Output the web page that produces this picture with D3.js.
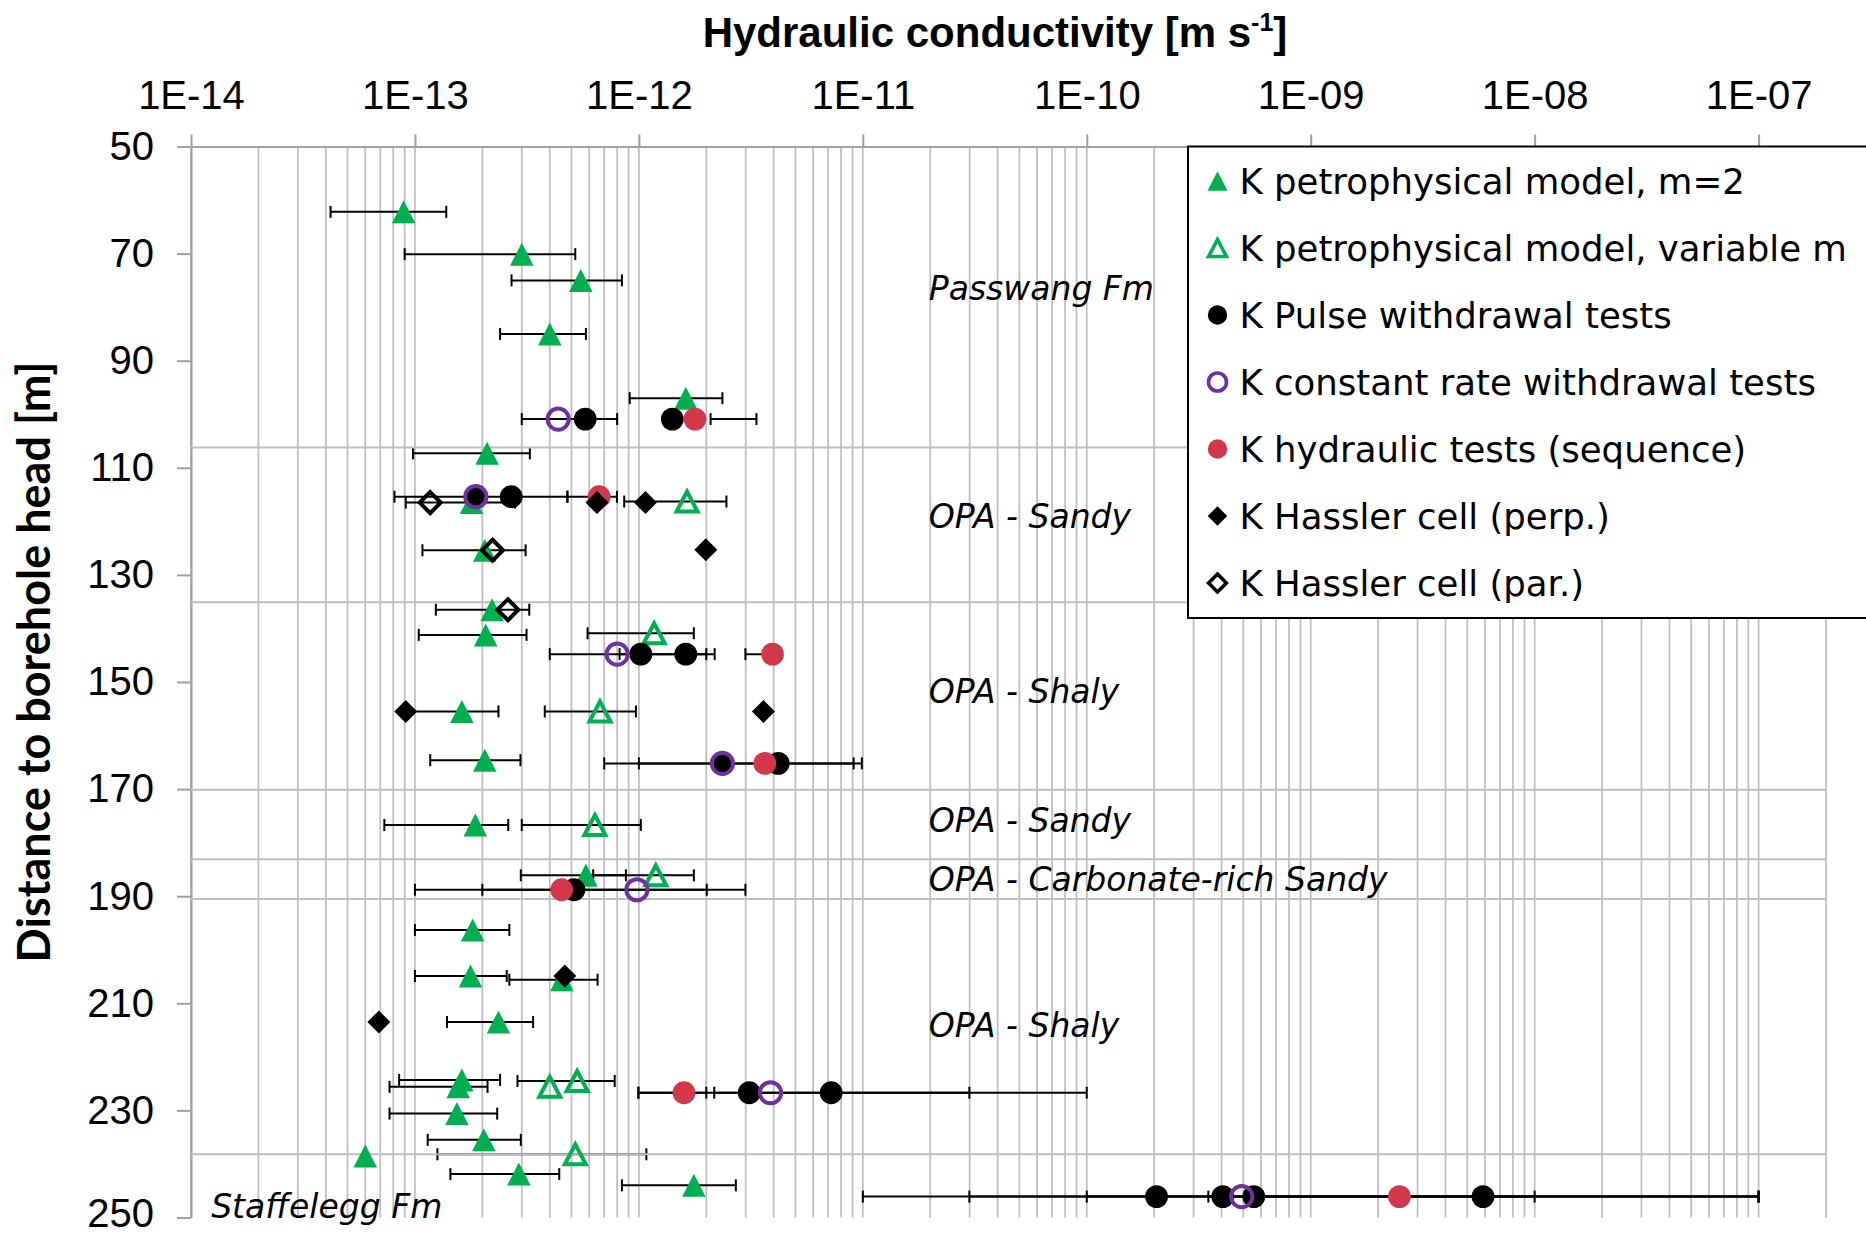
<!DOCTYPE html>
<html>
<head>
<meta charset="utf-8">
<script src="https://cdn.jsdelivr.net/npm/d3@7"></script>
<style>
  body { margin: 0; background: #fff; }
  svg { display: block; font-family: "Liberation Sans", Arial, sans-serif; }
</style>
</head>
<body>
<div id="chart"></div>
<script>
// Rows: [depth (m), K (m/s), error bar low, error bar high]
var petroM2 = [
    [62.2, 8.9e-14, 4.2e-14, 1.38e-13],
    [70.1, 3.0e-13, 9.0e-14, 5.2e-13],
    [75.0, 5.5e-13, 2.7e-13, 8.4e-13],
    [85.0, 4.0e-13, 2.4e-13, 5.8e-13],
    [97.0, 1.62e-12, 9.1e-13, 2.36e-12],
    [107.3, 2.1e-13, 9.8e-14, 3.26e-13],
    [116.5, 1.79e-13, 9.1e-14, 2.8e-13],
    [125.4, 2.05e-13, 1.08e-13, 3.12e-13],
    [136.5, 2.21e-13, 1.24e-13, 3.24e-13],
    [141.2, 2.07e-13, 1.04e-13, 3.15e-13],
    [155.5, 1.62e-13, 9.1e-14, 2.36e-13],
    [164.6, 2.05e-13, 1.17e-13, 2.96e-13],
    [176.7, 1.86e-13, 7.3e-14, 2.61e-13],
    [186.1, 5.8e-13, 2.97e-13, 8.75e-13],
    [196.3, 1.81e-13, 1.0e-13, 2.64e-13],
    [204.9, 1.77e-13, 1.0e-13, 2.57e-13],
    [205.6, 4.53e-13, 2.64e-13, 6.54e-13],
    [213.5, 2.36e-13, 1.39e-13, 3.37e-13],
    [224.3, 1.62e-13, 8.5e-14, 2.4e-13],
    [225.6, 1.56e-13, 7.7e-14, 2.11e-13],
    [230.6, 1.54e-13, 7.7e-14, 2.33e-13],
    [235.5, 2.03e-13, 1.14e-13, 2.97e-13],
    [238.5, 6.0e-14, null, null],
    [241.9, 2.91e-13, 1.44e-13, 4.41e-13],
    [244.0, 1.76e-12, 8.4e-13, 2.71e-12]
];

var petroVar = [
    [116.3, 1.64e-12, 8.6e-13, 2.46e-12],
    [140.9, 1.17e-12, 5.9e-13, 1.76e-12],
    [155.5, 6.7e-13, 3.8e-13, 9.7e-13],
    [176.7, 6.36e-13, 3.0e-13, 1.02e-12],
    [186.1, 1.19e-12, 6.25e-13, 1.76e-12],
    [224.5, 5.3e-13, 2.87e-13, 7.8e-13],
    [225.6, 4.0e-13, null, null],
    [238.2, 5.2e-13, 1.26e-13, 1.08e-12]
];

var pulse = [
    [100.9, 5.76e-13, 3.0e-13, 8.0e-13],
    [100.9, 1.41e-12, null, null],
    [115.4, 1.87e-13, null, null],
    [115.4, 2.69e-13, 8.1e-14, 4.8e-13],
    [144.8, 1.02e-12, 4.0e-13, 2.0e-12],
    [144.8, 1.62e-12, 8.2e-13, 2.18e-12],
    [165.2, 2.36e-12, 7.0e-13, 9.9e-12],
    [165.2, 4.19e-12, 1.0e-12, 9.1e-12],
    [188.8, 5.13e-13, 1.0e-13, 2.99e-12],
    [226.7, 3.11e-12, 9.95e-13, 2.99e-11],
    [226.7, 7.22e-12, 2.17e-12, 1.0e-10],
    [246.1, 2.05e-10, 1.0e-11, 1.0e-8],
    [246.1, 4.05e-10, 2.99e-11, 1.0e-7],
    [246.1, 5.57e-10, 1.0e-10, 1.0e-7],
    [246.1, 5.88e-9, 3.49e-10, 1.0e-7]
];

var constRate = [
    [100.9, 4.36e-13, null, null],
    [115.4, 1.87e-13, null, null],
    [144.8, 8.0e-13, null, null],
    [165.2, 2.36e-12, null, null],
    [188.8, 9.8e-13, null, null],
    [226.7, 3.87e-12, null, null],
    [246.1, 4.92e-10, null, null]
];

var hydraulic = [
    [100.9, 1.78e-12, 2.09e-12, 3.35e-12],
    [115.4, 6.65e-13, 4.79e-13, 7.98e-13],
    [144.8, 3.95e-12, 2.99e-12, 4.26e-12],
    [165.2, 3.65e-12, null, null],
    [188.8, 4.52e-13, 2.0e-13, 2.01e-12],
    [226.7, 1.59e-12, 9.95e-13, 2.0e-12],
    [246.1, 2.49e-9, null, null]
];

var hasslerPerp = [
    [116.5, 6.5e-13, null, null],
    [116.5, 1.07e-12, null, null],
    [125.3, 1.99e-12, null, null],
    [155.5, 9.1e-14, null, null],
    [155.5, 3.6e-12, null, null],
    [204.9, 4.67e-13, null, null],
    [213.5, 6.9e-14, null, null]
];

var hasslerPar = [
    [116.5, 1.17e-13, null, null],
    [125.4, 2.22e-13, null, null],
    [136.5, 2.6e-13, null, null]
];

// Formation boundaries (m) and labels [text, depth of baseline, K at text start]
var boundaries = [106.2, 135.1, 170.1, 183.1, 190.5, 238.2];
var formations = [
    ["Passwang Fm", 78.6, 1.97e-11],
    ["OPA - Sandy", 121.3, 1.97e-11],
    ["OPA - Shaly", 154.0, 1.97e-11],
    ["OPA - Sandy", 178.1, 1.97e-11],
    ["OPA - Carbonate-rich Sandy", 189.1, 1.97e-11],
    ["OPA - Shaly", 216.2, 1.97e-11],
    ["Staffelegg Fm", 250.0, 1.23e-14]
];

var depthTicks = [50, 70, 90, 110, 130, 150, 170, 190, 210, 230, 250];
var kTicks = [1e-14, 1e-13, 1e-12, 1e-11, 1e-10, 1e-9, 1e-8, 1e-7];
var kTickLabels = ["1E-14", "1E-13", "1E-12", "1E-11", "1E-10", "1E-09", "1E-08", "1E-07"];

var legendLabels = [
    "K petrophysical model, m=2",
    "K petrophysical model, variable m",
    "K Pulse withdrawal tests",
    "K constant rate withdrawal tests",
    "K hydraulic tests (sequence)",
    "K Hassler cell (perp.)",
    "K Hassler cell (par.)"
];

// Chart parameters
var properties = {
    width: 1866,
    height: 1235,
    margin: { top: 146.5, right: 40, bottom: 17.5, left: 191 }
};
var chartDimensions = {
    width: 1826 - properties.margin.left,
    height: properties.height - properties.margin.top - properties.margin.bottom
};

var green = "#00B050", purple = "#7030A0", red = "#D2374A", grid = "#BEBEBE";

var series = [
    { data: petroM2, shape: "triangle", fill: green, stroke: "none" },
    { data: petroVar, shape: "triangle", fill: "none", stroke: green },
    { data: pulse, shape: "circle", fill: "#000", stroke: "none" },
    { data: constRate, shape: "circle", fill: "none", stroke: purple },
    { data: hydraulic, shape: "circle", fill: red, stroke: "none" },
    { data: hasslerPerp, shape: "diamond", fill: "#000", stroke: "none" },
    { data: hasslerPar, shape: "diamond", fill: "none", stroke: "#000" }
];

var x = d3.scaleLog().domain([1e-14, 2e-7]).range([0, chartDimensions.width]);
var y = d3.scaleLinear().domain([50, 250]).range([0, chartDimensions.height]);

var svg = d3.select("#chart").append("svg")
    .attr("width", properties.width)
    .attr("height", properties.height);

var chartContent = svg.append("g")
    .attr("transform", "translate(" + properties.margin.left + "," + properties.margin.top + ")");

// Vertical gridlines, major and minor
chartContent.append("g").selectAll("line")
    .data(x.ticks())
    .enter().append("line")
    .attr("x1", function (d) { return x(d); })
    .attr("x2", function (d) { return x(d); })
    .attr("y1", 0)
    .attr("y2", chartDimensions.height)
    .attr("stroke", grid)
    .attr("stroke-width", 1.75);

// Axes
var xAxis = chartContent.append("g")
    .call(d3.axisTop(x).tickValues(kTicks)
        .tickFormat(function (d, i) { return kTickLabels[i]; })
        .tickSize(12).tickSizeOuter(0).tickPadding(26));
var yAxis = chartContent.append("g")
    .call(d3.axisLeft(y).tickValues(depthTicks)
        .tickSize(14).tickSizeOuter(0).tickPadding(23));

[xAxis, yAxis].forEach(function (a) {
    a.select(".domain").attr("stroke", "#A0A0A0").attr("stroke-width", 2);
    a.selectAll(".tick line").attr("stroke", "#A0A0A0").attr("stroke-width", 2);
    a.selectAll("text")
        .attr("font-family", "'Liberation Sans', Arial, sans-serif")
        .attr("font-size", 40)
        .attr("fill", "#000");
});
// keep the bottom label inside the picture
yAxis.selectAll(".tick text").filter(function (d) { return d === 250; }).attr("dy", "0.22em");

// Error bars
var bars = chartContent.append("g").attr("stroke", "#000").attr("stroke-width", 2);
series.forEach(function (s) {
    var rows = s.data.filter(function (d) { return d[2] !== null; });
    rows.forEach(function (d) {
        var yy = y(d[0]);
        bars.append("line").attr("x1", x(d[2])).attr("x2", x(d[3])).attr("y1", yy).attr("y2", yy);
        [d[2], d[3]].forEach(function (v) {
            bars.append("line").attr("x1", x(v)).attr("x2", x(v)).attr("y1", yy - 6).attr("y2", yy + 6);
        });
    });
});

// Formation boundaries
chartContent.append("g").selectAll("line")
    .data(boundaries)
    .enter().append("line")
    .attr("x1", 0)
    .attr("x2", chartDimensions.width)
    .attr("y1", function (d) { return y(d); })
    .attr("y2", function (d) { return y(d); })
    .attr("stroke", grid)
    .attr("stroke-width", 2);

// Marker shapes
function trianglePath(w, h) {
    return "M0," + (-h / 2) + "L" + (w / 2) + "," + (h / 2) + "L" + (-w / 2) + "," + (h / 2) + "Z";
}
function diamondPath(r) {
    return "M0," + (-r) + "L" + r + ",0L0," + r + "L" + (-r) + ",0Z";
}

function drawMarker(g, s, k) {
    var open = s.fill === "none";
    var el;
    if (s.shape === "triangle") {
        el = g.append("path").attr("d", open ? trianglePath(21 * k, 20 * k) : trianglePath(23.5 * k, 23 * k));
    } else if (s.shape === "diamond") {
        el = g.append("path").attr("d", diamondPath((open ? 10.5 : 11.5) * k));
    } else {
        el = g.append("circle").attr("r", (open ? 10.6 : 11.4) * k);
    }
    el.attr("fill", s.fill)
        .attr("stroke", s.stroke)
        .attr("stroke-width", open ? 4 * Math.max(k, 0.9) : 0)
        .attr("stroke-linejoin", "miter");
}

var markers = chartContent.append("g");
series.forEach(function (s) {
    s.data.forEach(function (d) {
        var g = markers.append("g")
            .attr("transform", "translate(" + x(d[1]) + "," + y(d[0]) + ")");
        drawMarker(g, s, 1);
    });
});

// Formation labels
chartContent.append("g").selectAll("text")
    .data(formations)
    .enter().append("text")
    .attr("x", function (d) { return x(d[2]); })
    .attr("y", function (d) { return y(d[1]); })
    .attr("font-family", "'DejaVu Sans', sans-serif")
    .attr("font-style", "italic")
    .attr("font-size", 33)
    .text(function (d) { return d[0]; });

// Legend
var legend = svg.append("g").attr("transform", "translate(1188,146.5)");
legend.append("rect")
    .attr("width", 720)
    .attr("height", 471.5)
    .attr("fill", "#fff")
    .attr("stroke", "#000")
    .attr("stroke-width", 2);
series.forEach(function (s, i) {
    var row = legend.append("g").attr("transform", "translate(0," + (34.5 + i * 67) + ")");
    drawMarker(row.append("g").attr("transform", "translate(29.5,0)"), s, 0.85);
    row.append("text")
        .attr("x", 51.5)
        .attr("y", 12.8)
        .attr("font-family", "'DejaVu Sans', sans-serif")
        .attr("font-size", 35.5)
        .text(legendLabels[i]);
});

// Axis titles
var title = svg.append("text")
    .attr("x", 995)
    .attr("y", 47)
    .attr("text-anchor", "middle")
    .attr("font-weight", "bold")
    .attr("font-size", 42);
title.append("tspan").text("Hydraulic conductivity [m s");
title.append("tspan").attr("font-size", 25).attr("dy", -16).text("-1");
title.append("tspan").attr("dy", 16).text("]");

svg.append("text")
    .attr("transform", "translate(50,662) rotate(-90)")
    .attr("text-anchor", "middle")
    .attr("font-family", "Lato, 'Liberation Sans', sans-serif")
    .attr("font-weight", "bold")
    .attr("font-size", 45)
    .text("Distance to borehole head [m]");
</script>
</body>
</html>
